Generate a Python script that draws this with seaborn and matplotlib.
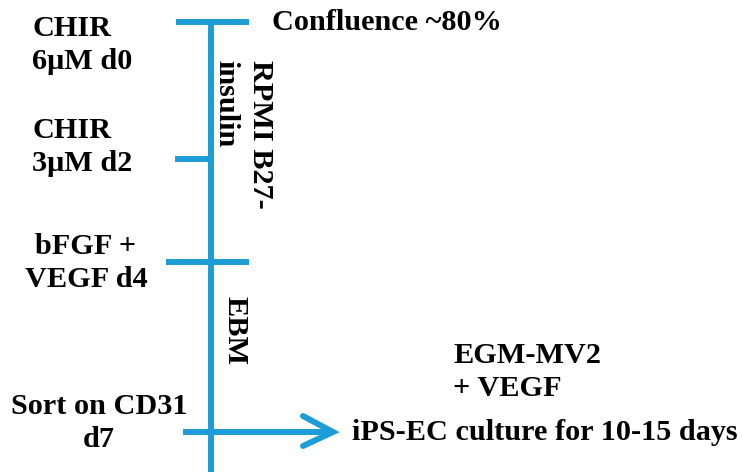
import matplotlib
matplotlib.use('Agg')
from matplotlib import pyplot as plt
import seaborn as sns
import pandas as pd

# timeline steps (day, label on the left)
days = [0, 2, 4, 7]
step_labels = ['CHIR\n6\u03bcM d0', 'CHIR\n3\u03bcM d2', 'bFGF +\nVEGF d4', 'Sort on CD31\nd7']
media_labels = ['RPMI B27-\ninsulin', 'EBM']
top_note = 'Confluence ~80%'
end_note = 'iPS-EC culture for 10-15 days'
end_medium = 'EGM-MV2\n+ VEGF'

# layout (pixel coordinates of the drawing)
W, H = 742, 472
axis_x = 211
step_y = [22, 159, 262, 432]
tick_left = [176, 175, 166, 183]
tick_right = [249, 211, 249, 333]
label_pos = [(32, 45, 'left'), (32, 147, 'left'), (86, 263, 'center'), (99, 423, 'center')]

blue = '#1d9dd8'
lw = 4.3
font = dict(family='Liberation Serif', weight='bold', fontsize=21.8, color='black')

sns.set_theme(style='white')
fig = plt.figure(figsize=(W / 100, H / 100), dpi=100)
ax = fig.add_axes([0, 0, 1, 1])
ax.set_xlim(0, W)
ax.set_ylim(H, 0)
ax.axis('off')

# main vertical timeline
spine = pd.DataFrame({'x': [axis_x, axis_x], 'y': [step_y[0], H]})
sns.lineplot(data=spine, x='x', y='y', ax=ax, color=blue, lw=lw, sort=False,
             estimator=None, solid_capstyle='butt')

# horizontal ticks for each step
for d, y, x0, x1 in zip(days, step_y, tick_left, tick_right):
    seg = pd.DataFrame({'x': [x0, x1], 'y': [y, y]})
    sns.lineplot(data=seg, x='x', y='y', ax=ax, color=blue, lw=lw, sort=False,
                 estimator=None, solid_capstyle='butt')

# open arrow head at the end of the last step
tip = tick_right[-1]
head = pd.DataFrame({'x': [tip - 30, tip, tip - 30],
                     'y': [step_y[-1] - 16, step_y[-1], step_y[-1] + 14]})
sns.lineplot(data=head, x='x', y='y', ax=ax, color=blue, lw=lw, sort=False,
             estimator=None, solid_joinstyle='miter', solid_capstyle='round')

for lab, (x, y, ha) in zip(step_labels, label_pos):
    ax.text(x, y, lab, ha=ha, va='center', multialignment=ha,
            linespacing=1.28, **font)

ax.text(272, step_y[0], top_note, ha='left', va='center', **font)
ax.text(352, step_y[-1], end_note, ha='left', va='center', **font)
ax.text(453, 372, end_medium, ha='left', va='center', linespacing=1.25, **font)

# media written along the timeline
ax.text(243, 60, media_labels[0], rotation=-90, ha='center', va='top',
        multialignment='left', linespacing=1.35, **font)
ax.text(235, 296, media_labels[1], rotation=-90, ha='center', va='top', **font)

ax.set_xlabel('')
ax.set_ylabel('')
fig.savefig('out.png', dpi=100)
